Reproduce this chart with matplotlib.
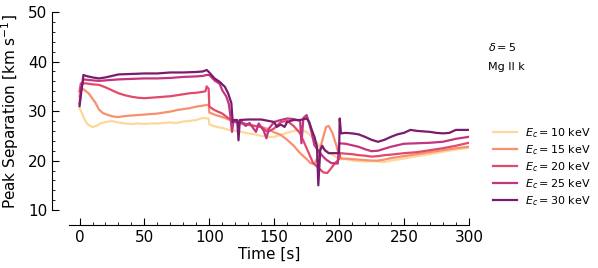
import numpy as np
import matplotlib
matplotlib.use('Agg')
import matplotlib.pyplot as plt
from matplotlib.ticker import MultipleLocator

# peak separation vs time
labels = ['$E_c = 10$ keV', '$E_c = 15$ keV', '$E_c = 20$ keV', '$E_c = 25$ keV', '$E_c = 30$ keV']
colors = ['#fdd89a', '#f8906e', '#e24a6c', '#c23581', '#7a1c6e']

t10 = [0, 2, 4, 6, 8, 10, 13, 16, 20, 25, 30, 35, 40, 45, 50, 55, 60, 65, 70, 75, 80, 85, 90, 95, 99.5,
       100, 103, 106, 110, 115, 120, 125, 130, 135, 140, 145, 150, 155, 160, 165, 170, 175, 180, 185,
       190, 195, 200, 205, 210, 215, 220, 225, 230, 235, 240, 250, 260, 270, 280, 290, 300]
v10 = [30.6, 29.5, 28.2, 27.4, 27.0, 26.8, 27.0, 27.5, 27.8, 28.0, 27.7, 27.5, 27.4, 27.5, 27.4, 27.5, 27.5,
       27.6, 27.7, 27.6, 27.9, 28.0, 28.2, 28.6, 28.5,
       27.3, 27.0, 26.8, 26.6, 26.2, 26.0, 25.8, 25.5, 25.3, 25.0, 24.8, 24.8, 25.2, 25.6, 26.0, 26.2, 25.8,
       24.5, 23.0, 22.0, 21.2, 20.3, 20.3, 20.0, 19.9, 19.8, 19.9, 19.8, 19.7, 20.0, 20.4, 20.9, 21.3, 21.8,
       22.2, 22.6]

t15 = [0, 1, 3, 5, 7, 10, 12, 15, 18, 22, 26, 30, 35, 40, 45, 50, 55, 60, 65, 70, 75, 80, 85, 90, 95, 99.5,
       100, 103, 106, 110, 115, 120, 125, 130, 135, 140, 145, 150, 155, 160, 165, 170, 175, 178, 181, 184,
       187, 190, 192, 195, 198, 200, 202, 205, 210, 215, 220, 225, 230, 235, 240, 250, 260, 270, 280, 290, 300]
v15 = [33.0, 34.5, 34.4, 34.0, 33.6, 32.5, 31.8, 30.3, 29.6, 29.2, 28.9, 28.8, 29.0, 29.1, 29.2, 29.3, 29.4,
       29.5, 29.7, 29.9, 30.2, 30.4, 30.6, 30.9, 31.1, 31.3,
       29.7, 29.4, 29.1, 28.8, 28.3, 27.8, 27.4, 27.2, 27.0, 26.8, 26.4, 25.7, 25.2, 24.2, 23.0, 21.5, 20.3,
       19.5, 19.3, 21.0, 24.0, 26.8, 27.0, 25.5, 23.0, 21.0, 20.4, 20.4, 20.3, 20.2, 20.1, 20.0, 20.0, 20.2,
       20.5, 20.9, 21.3, 21.7, 22.1, 22.5, 22.8]

t20 = [0, 1, 5, 10, 15, 20, 25, 30, 35, 40, 45, 50, 55, 60, 65, 70, 75, 80, 85, 90, 95, 97, 98, 99.5,
       100, 104, 110, 115, 120, 125, 130, 135, 140, 145, 150, 155, 160, 165, 170, 175, 180, 185, 188, 191,
       194, 197, 200, 201, 205, 210, 215, 220, 225, 230, 235, 240, 250, 260, 270, 280, 290, 300]
v20 = [34.0, 35.6, 35.6, 35.4, 35.3, 34.8, 34.2, 33.6, 33.2, 32.9, 32.7, 32.6, 32.7, 32.8, 32.9, 33.0, 33.2,
       33.4, 33.6, 33.7, 33.9, 34.0, 35.0, 34.5,
       30.9, 30.2, 29.5, 28.5, 27.8, 27.6, 27.3, 27.0, 26.8, 25.8, 26.5, 27.8, 28.0, 27.0, 25.5, 22.5, 19.5,
       18.3, 17.6, 17.5, 18.5, 19.5, 20.3, 21.5, 21.4, 21.3, 21.1, 21.0, 20.8, 20.9, 21.1, 21.2, 21.5, 21.7,
       22.1, 22.5, 23.0, 23.6]

t25 = [0, 1, 3, 10, 15, 20, 30, 40, 50, 60, 70, 80, 90, 95, 98, 100, 104, 108, 110, 113, 115, 116, 117.5,
       118.5, 120, 125, 128, 131, 134, 136, 138, 142, 144, 146, 150, 155, 160, 165, 170, 171, 172.5, 175,
       177, 179, 181, 184, 187, 190, 194, 199, 200, 205, 210, 215, 220, 225, 230, 235, 240, 250, 260, 270,
       280, 290, 300]
v25 = [31.5, 34.0, 36.4, 36.2, 36.1, 36.2, 36.4, 36.5, 36.6, 36.6, 36.7, 36.9, 37.0, 37.1, 37.3, 37.3, 36.2,
       35.5, 34.2, 33.0, 31.5, 29.5, 25.8, 27.8, 27.8, 27.8, 27.0, 27.6, 26.5, 25.8, 27.5, 26.0, 24.5, 26.5,
       27.8, 28.2, 28.5, 28.4, 28.0, 23.5, 28.6, 29.2, 27.5, 25.5, 23.1, 22.0, 21.0, 20.2, 19.5, 19.4, 23.5,
       23.4, 23.1, 22.8, 22.3, 21.9, 22.0, 22.4, 22.8, 23.4, 23.5, 23.6, 23.8, 24.4, 24.8]

t30 = [0, 3, 5, 10, 15, 20, 25, 30, 40, 50, 60, 70, 80, 90, 95, 98, 100, 104, 108, 112, 114.5, 117, 118,
       119, 121.5, 122.5, 123.5, 130, 140, 150, 152, 155, 158, 160, 165, 170, 175, 177, 179, 181, 183, 184,
       185.5, 187, 189, 192, 200, 200.5, 201.5, 205, 210, 215, 220, 225, 230, 235, 240, 245, 250, 255, 260,
       265, 270, 275, 280, 285, 290, 300]
v30 = [31.0, 37.3, 37.1, 36.8, 36.6, 36.8, 37.1, 37.4, 37.5, 37.6, 37.6, 37.8, 37.8, 37.9, 38.0, 38.3, 37.8,
       36.6, 35.9, 34.9, 33.6, 31.6, 27.8, 28.2, 28.2, 24.1, 28.2, 28.3, 28.3, 27.8, 26.8, 27.3, 26.8, 27.8,
       28.2, 28.2, 28.5, 27.8, 26.2, 24.8, 22.8, 15.0, 22.1, 23.0, 22.1, 21.5, 21.5, 28.5, 25.5, 25.6, 25.5,
       25.3, 24.8, 24.2, 23.8, 24.2, 24.8, 25.3, 25.6, 26.2, 26.0, 25.9, 25.8, 25.6, 25.5, 25.6, 26.2, 26.2]

times = [t10, t15, t20, t25, t30]
vals = [v10, v15, v20, v25, v30]

fig = plt.figure(figsize=(5.98, 2.68), dpi=100)
ax = fig.add_axes([0.115, 0.216, 0.669, 0.739])

for t, v, c, lab in zip(times, vals, colors, labels):
    ax.plot(t, v, c=c, lw=1.6, label=lab)

ax.set_xlim(-8.3, 300)
ax.set_ylim(10, 50)
ax.spines['top'].set_visible(False)
ax.spines['right'].set_visible(False)
ax.spines['left'].set_position(('outward', 12))
ax.spines['bottom'].set_position(('outward', 11))
ax.xaxis.set_major_locator(MultipleLocator(50))
ax.xaxis.set_minor_locator(MultipleLocator(10))
ax.yaxis.set_major_locator(MultipleLocator(10))
ax.yaxis.set_minor_locator(MultipleLocator(2))
ax.tick_params(which='both', direction='in', labelsize=11)
ax.tick_params(which='major', length=5)
ax.tick_params(which='minor', length=2.5)
ax.set_xlabel('Time [s]', fontsize=11, labelpad=1)
ax.set_ylabel('Peak Separation [km s$^{-1}$]', fontsize=11, labelpad=5)

fig.text(0.816, 0.825, r'$\delta = 5$', fontsize=8, va='center')
fig.text(0.816, 0.75, 'Mg II k', fontsize=8, va='center')
fig.legend(loc='center left', bbox_to_anchor=(0.815, 0.377), frameon=False, fontsize=8,
           handlelength=2.2, handletextpad=0.65, borderpad=0, labelspacing=0.28)

fig.savefig('out.png', dpi=100)
